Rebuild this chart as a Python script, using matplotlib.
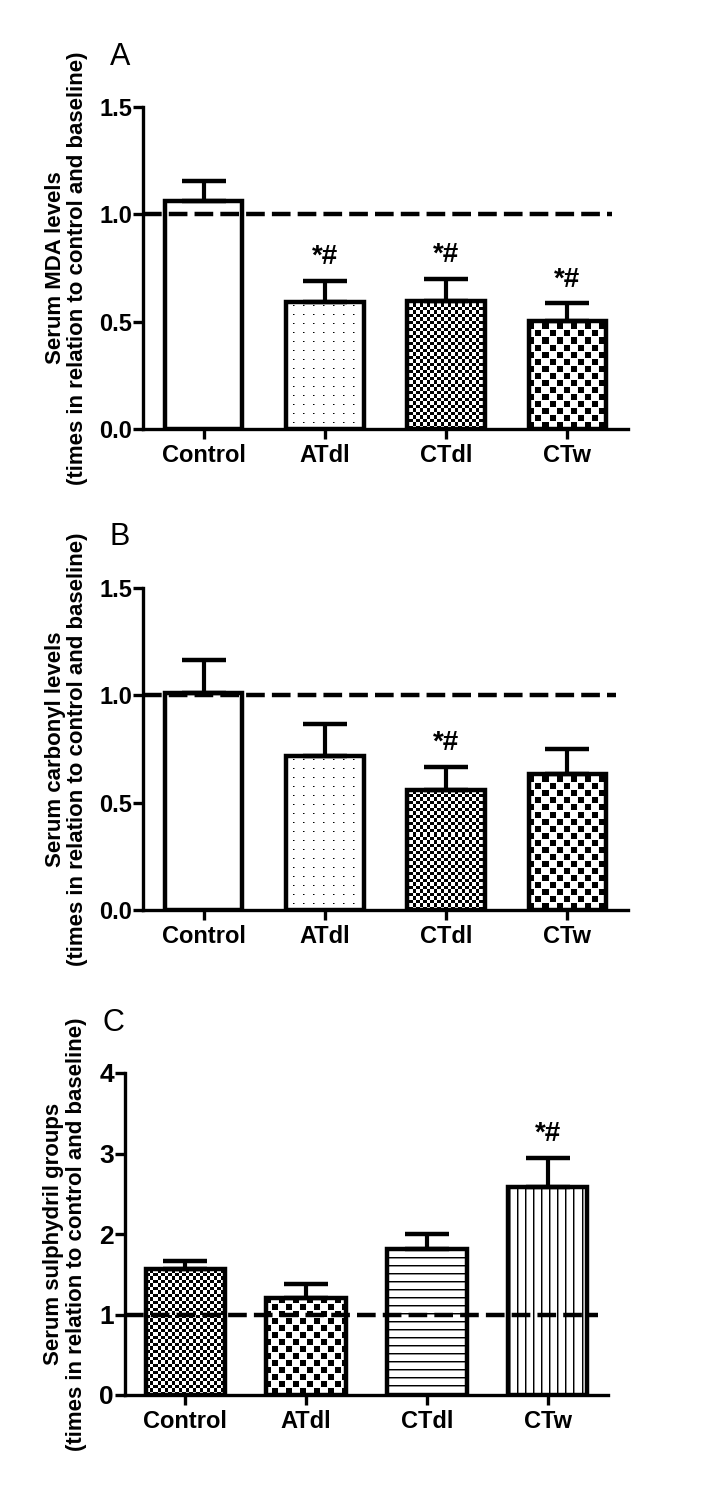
import numpy as np
import matplotlib
matplotlib.use('Agg')
import matplotlib.pyplot as plt

groups = ['Control', 'ATdl', 'CTdl', 'CTw']

mda_mean = [1.06, 0.59, 0.595, 0.505]
mda_sem = [0.095, 0.10, 0.105, 0.08]
mda_sig = ['', '*#', '*#', '*#']

carb_mean = [1.01, 0.717, 0.56, 0.635]
carb_sem = [0.155, 0.15, 0.107, 0.117]
carb_sig = ['', '', '*#', '']

sh_mean = [1.56, 1.20, 1.81, 2.59]
sh_sem = [0.11, 0.18, 0.19, 0.36]
sh_sig = ['', '', '', '*#']

plt.rcParams['font.family'] = ['Liberation Sans', 'DejaVu Sans']
plt.rcParams['font.weight'] = 'bold'
plt.rcParams['axes.linewidth'] = 2.4

fig = plt.figure(figsize=(7.15, 15.03), dpi=100)
W, H = 715, 1503


def texture(kind, w, h):
    yy, xx = np.mgrid[0:h, 0:w]
    t = np.zeros((h, w))
    if kind == 'fine':
        t = (((xx / 3.5).astype(int) + (yy / 3.5).astype(int)) % 2).astype(float)
    elif kind == 'coarse':
        on = ((xx // 7 + yy // 7) % 2 == 0) & (xx % 7 < 6) & (yy % 7 < 6)
        t = on.astype(float)
    elif kind == 'dots':
        t = np.where((yy % 9 == 0) & (xx % 10 == 0), 1.0,
                     np.where((yy % 9 == 0) & (xx % 10 == 1), 0.5, 0.0))
    elif kind == 'hlines':
        t = np.where(yy % 8 == 0, 1.0, np.where(yy % 8 == 1, 0.45, 0.0))
    elif kind == 'vlines':
        t = np.where(xx % 8 == 0, 1.0, np.where(xx % 8 == 1, 0.45, 0.0))
    return t


def panel(rect, means, sems, sig, fills, ylim, yticks, yticklabels, ylabel,
          label_x, width, dash_end, narrow_ticks=False):
    ax = fig.add_axes([rect[0] / W, 1 - rect[3] / H, (rect[2] - rect[0]) / W,
                       (rect[3] - rect[1]) / H])
    x = np.arange(len(groups))
    ax.set_xlim(-0.5, 3.5)
    ax.set_ylim(*ylim)

    faces = ax.bar(x, means, width=width, color='white', edgecolor='none', zorder=1)
    pw, ph = int(round(rect[2] - rect[0])), int(round(rect[3] - rect[1]))
    for bar, kind in zip(faces, fills):
        if kind == 'none':
            continue
        im = ax.imshow(texture(kind, pw, ph), extent=(-0.5, 3.5, ylim[0], ylim[1]),
                       origin='upper', cmap='gray_r', vmin=0, vmax=1,
                       interpolation='nearest', aspect='auto', zorder=1.5)
        im.set_clip_path(bar)
    ax.bar(x, means, width=width, fill=False, edgecolor='black', linewidth=3.2,
           zorder=2)
    ax.errorbar(x, means, yerr=[np.zeros(len(means)), sems], fmt='none',
                ecolor='black', elinewidth=3, capsize=15.5, capthick=3.2, zorder=2.5)
    ax.hlines(1.0, -0.5, dash_end, colors='black', linestyles=(0, (4.2, 1.6)),
              linewidth=3.2, zorder=3)

    for xi, m, s, t in zip(x, means, sems, sig):
        if t:
            ax.annotate(t, (xi, m + s), xytext=(0, 17), textcoords='offset points',
                        ha='center', va='center', fontsize=20, fontweight='bold')

    ax.set_xlim(-0.5, 3.5)
    ax.set_ylim(*ylim)
    ax.spines['top'].set_visible(False)
    ax.spines['right'].set_visible(False)
    ax.set_xticks(x)
    ax.set_xticklabels(groups, fontsize=17, fontweight='bold')
    ax.set_yticks(yticks)
    ax.set_yticklabels(yticklabels, fontsize=17, fontweight='bold')
    if narrow_ticks:
        for lab in ax.get_yticklabels():
            lab.set_family(['Liberation Sans Narrow', 'Liberation Sans'])
            lab.set_fontsize(19)
    ax.tick_params(axis='x', length=7, width=2.4, pad=4)
    ax.tick_params(axis='y', length=7, width=2.4, pad=1)
    ax.set_ylabel(ylabel, fontsize=16, fontweight='bold', linespacing=1.1)
    ax.yaxis.set_label_coords(label_x, 0.5)
    return ax


panel((143, 107, 628, 429), mda_mean, mda_sem, mda_sig,
      ['none', 'dots', 'fine', 'coarse'], (0, 1.5), [0, 0.5, 1.0, 1.5],
      ['0.0', '0.5', '1.0', '1.5'],
      'Serum MDA levels\n(times in relation to control and baseline)',
      -0.113, 0.64, 3.37)

panel((143, 588, 628, 910), carb_mean, carb_sem, carb_sig,
      ['none', 'dots', 'fine', 'coarse'], (0, 1.5), [0, 0.5, 1.0, 1.5],
      ['0.0', '0.5', '1.0', '1.5'],
      'Serum carbonyl levels\n(times in relation to control and baseline)',
      -0.113, 0.64, 3.4)

panel((125, 1073, 608, 1395), sh_mean, sh_sem, sh_sig,
      ['fine', 'coarse', 'hlines', 'vlines'], (0, 4), [0, 1, 2, 3, 4],
      ['0', '1', '2', '3', '4'],
      'Serum sulphydril groups\n(times in relation to control and baseline)',
      -0.079, 0.66, 3.42, narrow_ticks=True)

fig.text(110 / W, 1 - 57 / H, 'A', fontsize=22, fontweight='normal',
         ha='left', va='center')
fig.text(110 / W, 1 - 537 / H, 'B', fontsize=22, fontweight='normal',
         ha='left', va='center')
fig.text(103 / W, 1 - 1023 / H, 'C', fontsize=22, fontweight='normal',
         ha='left', va='center', family=['Liberation Sans Narrow', 'Liberation Sans'])

fig.savefig('out.png', dpi=100)
